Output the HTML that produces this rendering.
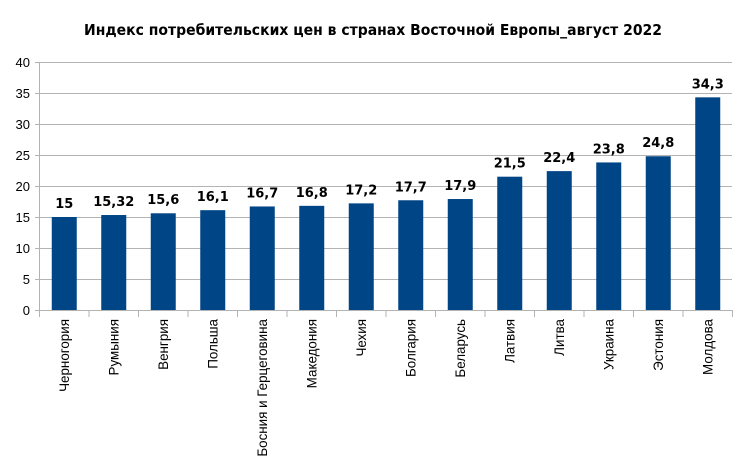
<!DOCTYPE html>
<html><head><meta charset="utf-8"><style>body{margin:0;background:#fff}</style></head>
<body>
<svg width="746" height="467" xmlns="http://www.w3.org/2000/svg" font-family="Liberation Sans, DejaVu Sans, sans-serif">
<rect width="746" height="467" fill="#fff"/>
<text x="373" y="35" text-anchor="middle" font-size="15" font-weight="bold" fill="#000" font-family="DejaVu Sans, sans-serif" textLength="578" lengthAdjust="spacingAndGlyphs">Индекс потребительских цен в странах Восточной Европы_август 2022</text>
<g stroke="#b3b3b3" stroke-width="1">
<line x1="35" y1="62.5" x2="732" y2="62.5"/>
<line x1="35" y1="93.5" x2="732" y2="93.5"/>
<line x1="35" y1="124.5" x2="732" y2="124.5"/>
<line x1="35" y1="155.5" x2="732" y2="155.5"/>
<line x1="35" y1="186.5" x2="732" y2="186.5"/>
<line x1="35" y1="217.5" x2="732" y2="217.5"/>
<line x1="35" y1="248.5" x2="732" y2="248.5"/>
<line x1="35" y1="279.5" x2="732" y2="279.5"/>
<line x1="35" y1="310.5" x2="732" y2="310.5"/>
<line x1="39.5" y1="62" x2="39.5" y2="317"/>
<line x1="89" y1="310" x2="89" y2="317"/><line x1="138.5" y1="310" x2="138.5" y2="317"/><line x1="188" y1="310" x2="188" y2="317"/><line x1="237.5" y1="310" x2="237.5" y2="317"/><line x1="287" y1="310" x2="287" y2="317"/><line x1="336.5" y1="310" x2="336.5" y2="317"/><line x1="386" y1="310" x2="386" y2="317"/><line x1="435.5" y1="310" x2="435.5" y2="317"/><line x1="485" y1="310" x2="485" y2="317"/><line x1="534.5" y1="310" x2="534.5" y2="317"/><line x1="584" y1="310" x2="584" y2="317"/><line x1="633.5" y1="310" x2="633.5" y2="317"/><line x1="683" y1="310" x2="683" y2="317"/><line x1="732.5" y1="310" x2="732.5" y2="317"/>
</g>
<g font-size="13" fill="#000" text-anchor="end">
<text x="30" y="67">40</text><text x="30" y="98">35</text><text x="30" y="129">30</text><text x="30" y="160">25</text><text x="30" y="191">20</text><text x="30" y="222">15</text><text x="30" y="253">10</text><text x="30" y="284">5</text><text x="30" y="315">0</text>
</g>
<g fill="#004586">
<rect x="51.75" y="217" width="25" height="93"/>
<rect x="101.25" y="215.02" width="25" height="94.98"/>
<rect x="150.75" y="213.28" width="25" height="96.72"/>
<rect x="200.25" y="210.18" width="25" height="99.82"/>
<rect x="249.75" y="206.46" width="25" height="103.54"/>
<rect x="299.25" y="205.84" width="25" height="104.16"/>
<rect x="348.75" y="203.36" width="25" height="106.64"/>
<rect x="398.25" y="200.26" width="25" height="109.74"/>
<rect x="447.75" y="199.02" width="25" height="110.98"/>
<rect x="497.25" y="176.7" width="25" height="133.3"/>
<rect x="546.75" y="171.12" width="25" height="138.88"/>
<rect x="596.25" y="162.44" width="25" height="147.56"/>
<rect x="645.75" y="156.24" width="25" height="153.76"/>
<rect x="695.25" y="97.34" width="25" height="212.66"/>
</g>
<g font-size="13" font-weight="bold" text-anchor="middle" font-family="DejaVu Sans, sans-serif" fill="#000">
<text x="64.25" y="208">15</text>
<text x="113.75" y="206">15,32</text>
<text x="163.25" y="204">15,6</text>
<text x="212.75" y="201">16,1</text>
<text x="262.25" y="197.5">16,7</text>
<text x="311.75" y="197">16,8</text>
<text x="361.25" y="194.5">17,2</text>
<text x="410.75" y="191.5">17,7</text>
<text x="460.25" y="190">17,9</text>
<text x="509.75" y="167.5">21,5</text>
<text x="559.25" y="162">22,4</text>
<text x="608.75" y="153.5">23,8</text>
<text x="658.25" y="147">24,8</text>
<text x="707.75" y="88.5">34,3</text>
</g>
<g font-size="13.4" fill="#000" text-anchor="end">
<text transform="translate(69,319) rotate(-90)">Черногория</text>
<text transform="translate(118.5,319) rotate(-90)">Румыния</text>
<text transform="translate(168,319) rotate(-90)">Венгрия</text>
<text transform="translate(217.5,319) rotate(-90)">Польша</text>
<text transform="translate(267,319) rotate(-90)">Босния и Герцеговина</text>
<text transform="translate(316.5,319) rotate(-90)">Македония</text>
<text transform="translate(366,319) rotate(-90)">Чехия</text>
<text transform="translate(415.5,319) rotate(-90)">Болгария</text>
<text transform="translate(465,319) rotate(-90)">Беларусь</text>
<text transform="translate(514.5,319) rotate(-90)">Латвия</text>
<text transform="translate(564,319) rotate(-90)">Литва</text>
<text transform="translate(613.5,319) rotate(-90)">Украина</text>
<text transform="translate(663,319) rotate(-90)">Эстония</text>
<text transform="translate(712.5,319) rotate(-90)">Молдова</text>
</g>
</svg>
</body></html>
